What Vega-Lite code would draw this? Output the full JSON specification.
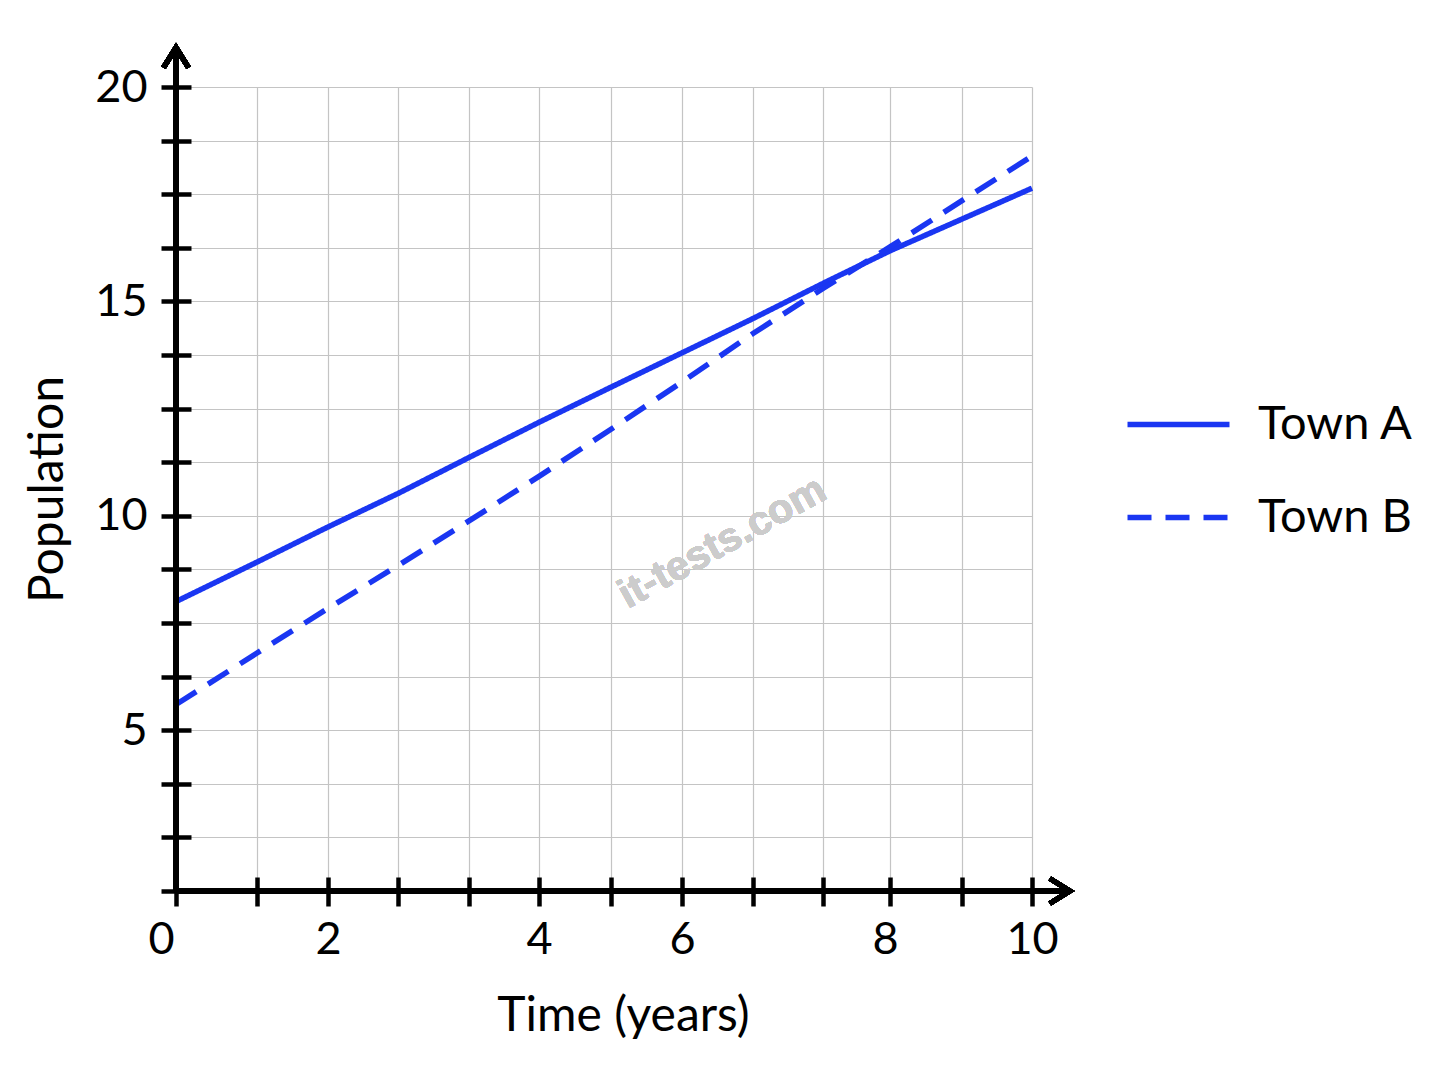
{
  "$schema": "https://vega.github.io/schema/vega-lite/v6.json",
  "width": 856,
  "height": 804,
  "autosize": {"type": "none"},
  "padding": {"left": 176, "top": 87, "right": 416, "bottom": 195},
  "background": "white",
  "config": {
    "view": {"stroke": null},
    "font": "Lato",
    "axis": {"labelFont": "Lato", "titleFont": "Lato", "labelColor": "black", "titleColor": "black", "titleFontWeight": "normal"}
  },
  "data": {
    "values": [
      {"town": "Town A", "time": 0, "population": 8.0},
      {"town": "Town A", "time": 1, "population": 8.92},
      {"town": "Town A", "time": 2, "population": 9.74},
      {"town": "Town A", "time": 2.667, "population": 10.52},
      {"town": "Town A", "time": 3.333, "population": 11.36},
      {"town": "Town A", "time": 4, "population": 12.18},
      {"town": "Town A", "time": 5, "population": 13.0},
      {"town": "Town A", "time": 6, "population": 13.8},
      {"town": "Town A", "time": 6.667, "population": 14.6},
      {"town": "Town A", "time": 7.333, "population": 15.42},
      {"town": "Town A", "time": 8, "population": 16.18},
      {"town": "Town A", "time": 9, "population": 16.92},
      {"town": "Town A", "time": 10, "population": 17.64},
      {"town": "Town B", "time": 0, "population": 5.6},
      {"town": "Town B", "time": 1, "population": 6.8},
      {"town": "Town B", "time": 2, "population": 7.84},
      {"town": "Town B", "time": 2.667, "population": 8.84},
      {"town": "Town B", "time": 3.333, "population": 9.88},
      {"town": "Town B", "time": 4, "population": 10.92},
      {"town": "Town B", "time": 5, "population": 12.02},
      {"town": "Town B", "time": 6, "population": 13.12},
      {"town": "Town B", "time": 6.667, "population": 14.25},
      {"town": "Town B", "time": 7.333, "population": 15.3},
      {"town": "Town B", "time": 8, "population": 16.27},
      {"town": "Town B", "time": 9, "population": 17.35},
      {"town": "Town B", "time": 10, "population": 18.39}
    ]
  },
  "layer": [
    {
      "mark": {"type": "text", "text": "it-tests.com", "angle": -29, "fontSize": 41, "fontWeight": "bold", "font": "Liberation Sans", "color": "#cccccc", "align": "center", "baseline": "middle"},
      "encoding": {
        "x": {"datum": 6.38, "type": "quantitative"},
        "y": {"datum": 9.37, "type": "quantitative"}
      }
    },
    {
      "mark": {"type": "line", "strokeWidth": 5.5, "color": "#1a36f2"},
      "encoding": {
        "x": {
          "field": "time",
          "type": "quantitative",
          "scale": {
            "domain": [0, 1, 2, 2.667, 3.333, 4, 5, 6, 6.667, 7.333, 8, 9, 10],
            "range": [0, 81, 152, 222, 293, 363, 435, 506, 577, 647, 714, 786, 856],
            "nice": false,
            "zero": false
          },
          "axis": {
            "title": "Time (years)",
            "values": [0, 1, 2, 2.667, 3.333, 4, 5, 6, 6.667, 7.333, 8, 9, 10],
            "labelExpr": "datum.value % 2 === 0 ? format(datum.value, 'd') : ''",
            "labelFlush": false,
            "labelOverlap": false,
            "offset": -14,
            "domain": false,
            "tickSize": 29,
            "tickWidth": 4.5,
            "tickColor": "black",
            "grid": true,
            "gridColor": "#c4c4c4",
            "gridWidth": 1.2,
            "labelFontSize": 45,
            "labelPadding": 11,
            "labelOffset": {"condition": [{"test": "datum.value === 0", "value": -15}, {"test": "datum.value === 8", "value": -5}], "value": 0},
            "titleFontSize": 48,
            "titlePadding": 30,
            "titleX": 447,
            "titleAlign": "center"
          }
        },
        "y": {
          "field": "population",
          "type": "quantitative",
          "scale": {"domain": [1.25, 20], "nice": false, "zero": false},
          "axis": {
            "title": "Population",
            "values": [1.25, 2.5, 3.75, 5, 6.25, 7.5, 8.75, 10, 11.25, 12.5, 13.75, 15, 16.25, 17.5, 18.75, 20],
            "labelExpr": "datum.value % 5 === 0 ? format(datum.value, 'd') : ''",
            "labelFlush": false,
            "labelOverlap": false,
            "offset": -15,
            "domain": false,
            "tickSize": 30,
            "tickWidth": 4.5,
            "tickColor": "black",
            "grid": true,
            "gridColor": "#c4c4c4",
            "gridWidth": 1.2,
            "labelFontSize": 45,
            "labelPadding": 14,
            "titleFontSize": 48,
            "titlePadding": 22
          }
        },
        "strokeDash": {
          "field": "town",
          "type": "nominal",
          "scale": {"domain": ["Town A", "Town B"], "range": [[1, 0], [24, 14]]},
          "legend": {
            "title": null,
            "orient": "none",
            "legendX": 974,
            "legendY": 309,
            "padding": 0,
            "symbolType": "M-2,0L2,0",
            "symbolSize": 2601,
            "symbolStrokeWidth": 5.5,
            "symbolStrokeColor": "#1a36f2",
            "labelFontSize": 47,
            "labelFont": "Lato",
            "labelColor": "black",
            "labelOffset": 51,
            "rowPadding": 41
          }
        }
      }
    },
    {
      "mark": {"type": "rule", "strokeWidth": 5, "color": "black"},
      "encoding": {
        "x": {"datum": 0, "type": "quantitative"},
        "y": {"datum": 1.25, "type": "quantitative"},
        "y2": {"datum": 20.92}
      }
    },
    {
      "mark": {"type": "rule", "strokeWidth": 5, "color": "black"},
      "encoding": {
        "x": {"datum": 0, "type": "quantitative"},
        "x2": {"datum": 10.54},
        "y": {"datum": 1.25, "type": "quantitative"}
      }
    },
    {
      "mark": {"type": "point", "shape": "M-1,1.6L0,0L1,1.6", "size": 625, "filled": false, "stroke": "black", "strokeWidth": 5, "opacity": 1, "strokeJoin": "miter"},
      "encoding": {
        "x": {"datum": 0, "type": "quantitative"},
        "y": {"datum": 20.92, "type": "quantitative"}
      }
    },
    {
      "mark": {"type": "point", "shape": "M-1.6,-1L0,0L-1.6,1", "size": 625, "filled": false, "stroke": "black", "strokeWidth": 5, "opacity": 1, "strokeJoin": "miter"},
      "encoding": {
        "x": {"datum": 10.54, "type": "quantitative"},
        "y": {"datum": 1.25, "type": "quantitative"}
      }
    }
  ]
}
